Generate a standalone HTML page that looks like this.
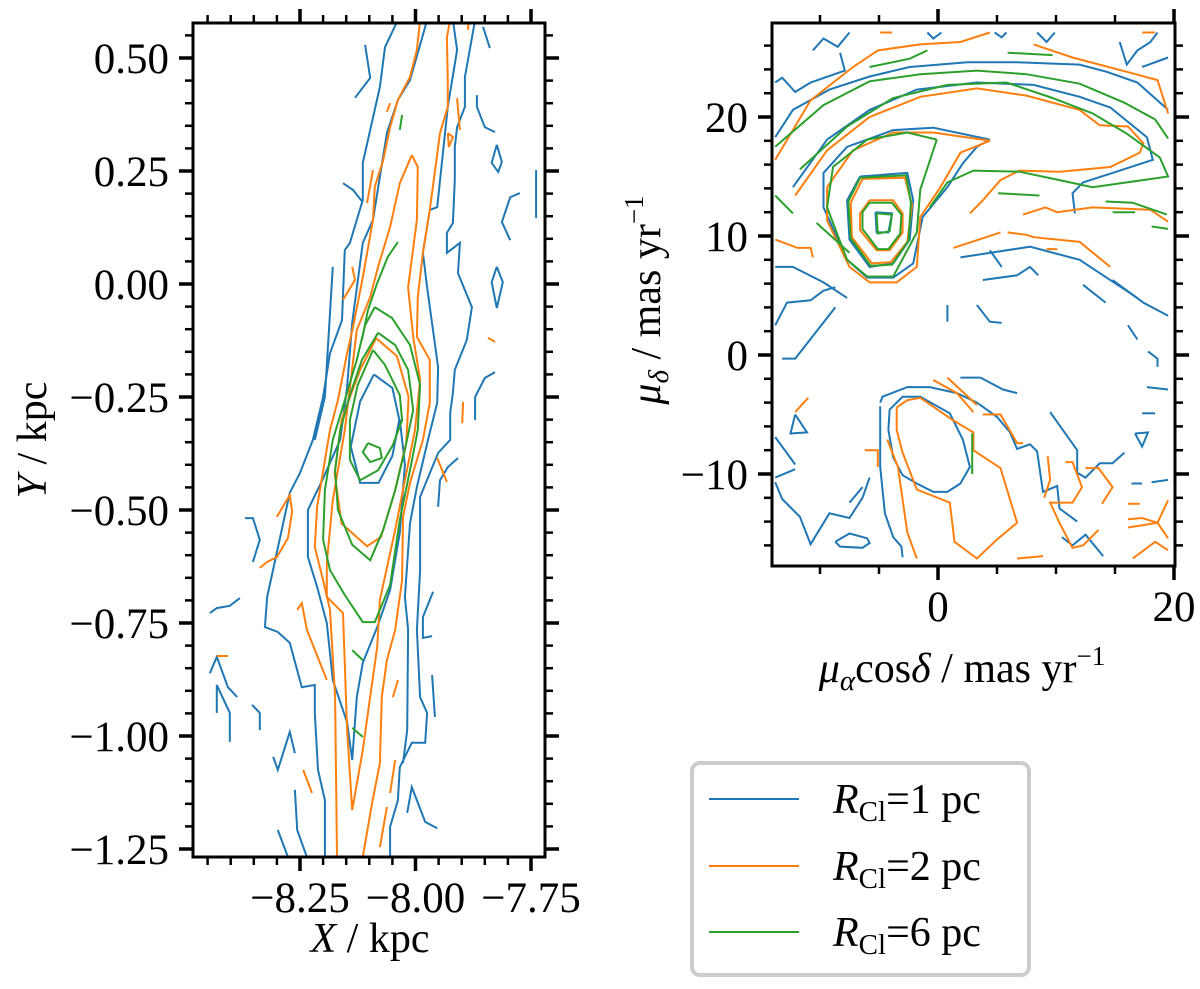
<!DOCTYPE html>
<html><head><meta charset="utf-8">
<style>
html,body{margin:0;padding:0;background:#fff;font-family:"Liberation Serif",serif;}
svg{display:block;font-family:"Liberation Serif",serif;}
svg text{font-family:"Liberation Serif",serif;}
</style></head>
<body>
<svg id="fig" width="1200" height="989" viewBox="0 0 1200 989" xmlns="http://www.w3.org/2000/svg" font-family="Liberation Serif, serif">
<g id="left-panel"></g>
<g id="right-panel"></g>
<g id="legend">
  <rect x="692" y="763" width="337" height="212" rx="8" fill="#fff" stroke="#cccccc" stroke-width="4"/>
  <g>
    <line x1="709" y1="799" x2="799" y2="799" stroke="#1f77b4" stroke-width="2"/>
    <text x="833" y="813" font-size="42" font-family="Liberation Serif, serif"><tspan font-style="italic">R</tspan><tspan font-size="29" dy="8">Cl</tspan><tspan dy="-8">=1 pc</tspan></text>
  </g>
  <g>
    <line x1="709" y1="866" x2="799" y2="866" stroke="#ff7f0e" stroke-width="2"/>
    <text x="833" y="880" font-size="42" font-family="Liberation Serif, serif"><tspan font-style="italic">R</tspan><tspan font-size="29" dy="8">Cl</tspan><tspan dy="-8">=2 pc</tspan></text>
  </g>
  <g>
    <line x1="709" y1="932" x2="799" y2="932" stroke="#2ca02c" stroke-width="2"/>
    <text x="833" y="946" font-size="42" font-family="Liberation Serif, serif"><tspan font-style="italic">R</tspan><tspan font-size="29" dy="8">Cl</tspan><tspan dy="-8">=6 pc</tspan></text>
  </g>
</g>
</svg>
<script>
// ---------- data: left panel (X, Y in kpc) ----------
const leftXTicks = [-8.25, -8.00, -7.75];
const leftXTickLabels = ["\u22128.25", "\u22128.00", "\u22127.75"];
const leftYTicks = [0.50, 0.25, 0.00, -0.25, -0.50, -0.75, -1.00, -1.25];
const leftYTickLabels = ["0.50","0.25","0.00","\u22120.25","\u22120.50","\u22120.75","\u22121.00","\u22121.25"];
const leftBlue = [
 [[-8.038,0.584],[-8.066,0.524],[-8.077,0.436],[-8.114,0.268],[-8.114,0.186],[-8.142,0.091],[-8.153,0.075],[-8.159,-0.080],[-8.185,-0.153],[-8.200,-0.250],[-8.222,-0.345],[-8.250,-0.418],[-8.272,-0.462],[-8.321,-0.692],[-8.326,-0.759],[-8.298,-0.770],[-8.272,-0.794],[-8.246,-0.892],[-8.218,-0.887],[-8.218,-0.949],[-8.211,-1.075],[-8.196,-1.142],[-8.196,-1.268]],
 [[-7.871,0.584],[-7.893,0.458],[-7.893,0.392],[-7.910,0.347],[-7.915,0.303],[-7.915,0.230],[-7.919,0.135],[-7.932,0.113],[-7.932,0.069],[-7.904,0.091],[-7.908,0.024],[-7.878,-0.051],[-7.889,-0.124],[-7.915,-0.190],[-7.919,-0.241],[-7.925,-0.285],[-7.925,-0.345],[-7.951,-0.374],[-7.990,-0.471],[-7.990,-0.633],[-7.997,-0.765],[-7.990,-0.914],[-7.975,-0.949],[-7.979,-1.015],[-8.008,-1.015],[-8.034,-1.069],[-8.038,-1.142],[-8.055,-1.201],[-8.055,-1.268]],
 [[-7.919,0.584],[-7.910,0.518],[-7.930,0.392],[-7.953,0.170],[-7.969,0.164],[-7.984,0.069],[-7.975,-0.007],[-7.951,-0.184],[-7.953,-0.263],[-7.973,-0.345],[-7.997,-0.449],[-8.012,-0.529],[-8.023,-0.692],[-8.016,-0.765],[-8.018,-0.987],[-8.027,-1.060]],
 [[-7.975,0.584],[-7.995,0.511],[-8.012,0.451],[-8.038,0.407],[-8.062,0.334],[-8.092,0.142],[-8.114,0.091],[-8.137,-0.086],[-8.148,-0.228],[-8.163,-0.345],[-8.200,-0.430],[-8.233,-0.500],[-8.233,-0.604],[-8.213,-0.670],[-8.192,-0.750],[-8.179,-0.876],[-8.148,-0.970],[-8.137,-1.053],[-8.127,-0.914],[-8.114,-0.838],[-8.083,-0.759],[-8.055,-0.677],[-8.034,-0.550],[-8.023,-0.400],[-8.034,-0.300]],
 [[-8.090,-0.200],[-8.050,-0.230],[-8.035,-0.300],[-8.050,-0.380],[-8.080,-0.440],[-8.120,-0.440],[-8.140,-0.360],[-8.120,-0.260],[-8.090,-0.200]],
 [[-8.109,0.529],[-8.098,0.456],[-8.131,0.412]],
 [[-7.854,0.569],[-7.839,0.522]],
 [[-7.867,0.418],[-7.867,0.392],[-7.850,0.347],[-7.828,0.336]],
 [[-7.824,0.308],[-7.835,0.268],[-7.821,0.248],[-7.813,0.270],[-7.824,0.308]],
 [[-7.739,0.252],[-7.739,0.146]],
 [[-7.774,0.201],[-7.795,0.192],[-7.813,0.137],[-7.795,0.097]],
 [[-7.824,0.038],[-7.835,0.004],[-7.824,-0.053],[-7.811,0.004],[-7.824,0.038]],
 [[-7.828,-0.195],[-7.850,-0.208],[-7.871,-0.250],[-7.871,-0.301]],
 [[-8.157,0.223],[-8.135,0.208],[-8.114,0.181]],
 [[-8.179,0.038],[-8.196,-0.250],[-8.218,-0.345]],
 [[-8.369,-0.518],[-8.352,-0.518],[-8.337,-0.566],[-8.352,-0.615]],
 [[-8.445,-0.728],[-8.430,-0.717],[-8.402,-0.712],[-8.380,-0.695]],
 [[-8.445,-0.861],[-8.430,-0.825],[-8.406,-0.892],[-8.386,-0.914]],
 [[-8.430,-0.949],[-8.430,-0.887],[-8.402,-0.949],[-8.402,-1.013]],
 [[-8.354,-0.931],[-8.337,-0.949],[-8.337,-0.987]],
 [[-8.308,-1.046],[-8.298,-1.075],[-8.272,-0.991],[-8.261,-1.038]],
 [[-8.261,-1.119],[-8.256,-1.208],[-8.235,-1.268]],
 [[-8.298,-1.208],[-8.276,-1.268]],
 [[-7.962,-0.681],[-7.984,-0.737],[-7.984,-0.783],[-7.964,-0.779]],
 [[-7.964,-0.865],[-7.958,-0.958]],
 [[-8.018,-1.170],[-8.008,-1.113],[-7.979,-1.190],[-7.953,-1.204]],
 [[-7.951,-0.493],[-7.947,-0.434],[-7.930,-0.405],[-7.908,-0.385]]
];
const leftOrange = [
 [[-7.990,0.584],[-7.997,0.518],[-8.012,0.458],[-8.038,0.407],[-8.055,0.347],[-8.070,0.274],[-8.088,0.215],[-8.092,0.142],[-8.114,0.015],[-8.135,-0.095],[-8.148,-0.153],[-8.168,-0.257],[-8.185,-0.323],[-8.213,-0.493],[-8.218,-0.582],[-8.200,-0.655],[-8.185,-0.721],[-8.174,-0.914],[-8.170,-1.268]],
 [[-7.925,0.584],[-7.932,0.546],[-7.930,0.445],[-7.930,0.392],[-7.947,0.334],[-7.969,0.164],[-7.984,0.069],[-7.995,-0.029],[-7.997,-0.117],[-7.969,-0.168],[-7.969,-0.263],[-7.984,-0.345],[-8.012,-0.440],[-8.027,-0.515],[-8.029,-0.655],[-8.044,-0.765],[-8.062,-0.832],[-8.073,-0.914],[-8.077,-1.060],[-8.094,-1.148],[-8.114,-1.268]],
 [[-8.008,0.285],[-7.995,0.259],[-7.997,0.142],[-8.016,-0.007],[-8.005,-0.117],[-7.990,-0.212],[-8.001,-0.323],[-8.023,-0.434],[-8.044,-0.544],[-8.077,-0.699],[-8.083,-0.803],[-8.094,-0.883],[-8.114,-1.031],[-8.137,-1.164],[-8.148,-0.987],[-8.157,-0.728],[-8.192,-0.692],[-8.192,-0.617],[-8.179,-0.478],[-8.153,-0.323],[-8.127,-0.102],[-8.098,-0.029],[-8.081,0.038],[-8.055,0.126],[-8.034,0.223],[-8.008,0.285]],
 [[-8.085,-0.120],[-8.040,-0.160],[-8.015,-0.250],[-8.020,-0.350],[-8.045,-0.460],[-8.075,-0.560],[-8.105,-0.580],[-8.160,-0.530],[-8.175,-0.420],[-8.160,-0.300],[-8.120,-0.190],[-8.085,-0.120]],
 [[-8.300,-0.515],[-8.272,-0.467],[-8.267,-0.504],[-8.276,-0.562],[-8.300,-0.604],[-8.321,-0.615],[-8.337,-0.628]],
 [[-8.256,-0.721],[-8.246,-0.706],[-8.235,-0.765],[-8.192,-0.876]],
 [[-8.430,-0.823],[-8.406,-0.823]],
 [[-8.243,-1.075],[-8.224,-1.126]],
 [[-7.953,-0.385],[-7.932,-0.438]],
 [[-8.044,-1.053],[-8.055,-1.126]],
 [[-8.062,-1.157],[-8.077,-1.246]],
 [[-8.038,-0.876],[-8.049,-0.914]],
 [[-8.055,0.400],[-8.062,0.381]],
 [[-8.092,0.252],[-8.105,0.179]],
 [[-8.137,0.038],[-8.131,0.009],[-8.157,-0.035]],
 [[-7.886,0.577],[-7.886,0.562]],
 [[-7.930,0.334],[-7.919,0.325],[-7.928,0.303],[-7.930,0.334]],
 [[-7.910,0.411],[-7.904,0.341]],
 [[-7.843,-0.119],[-7.828,-0.128]],
 [[-7.897,-0.261],[-7.899,-0.308]]
];
const leftGreen = [
 [[-8.088,-0.051],[-8.051,-0.075],[-8.012,-0.135],[-7.990,-0.223],[-7.995,-0.323],[-8.012,-0.412],[-8.034,-0.522],[-8.055,-0.666],[-8.088,-0.748],[-8.114,-0.748],[-8.153,-0.688],[-8.185,-0.633],[-8.200,-0.566],[-8.196,-0.456],[-8.179,-0.345],[-8.153,-0.257],[-8.127,-0.168],[-8.109,-0.091],[-8.088,-0.051]],
 [[-8.081,-0.108],[-8.044,-0.135],[-8.016,-0.190],[-8.005,-0.279],[-8.023,-0.367],[-8.044,-0.456],[-8.070,-0.544],[-8.098,-0.611],[-8.137,-0.577],[-8.168,-0.500],[-8.174,-0.412],[-8.163,-0.323],[-8.142,-0.246],[-8.116,-0.168],[-8.081,-0.108]],
 [[-8.092,-0.146],[-8.066,-0.179],[-8.034,-0.246],[-8.029,-0.301],[-8.049,-0.356],[-8.081,-0.412],[-8.120,-0.434],[-8.142,-0.389],[-8.142,-0.301],[-8.125,-0.223],[-8.092,-0.146]],
 [[-8.103,-0.352],[-8.077,-0.363],[-8.073,-0.385],[-8.098,-0.394],[-8.114,-0.372],[-8.103,-0.352]],
 [[-8.038,0.093],[-8.060,0.060],[-8.083,0.002],[-8.103,-0.058],[-8.116,-0.124]],
 [[-8.029,0.374],[-8.034,0.341]],
 [[-8.137,-0.810],[-8.114,-0.832]],
 [[-8.137,-0.982],[-8.114,-1.002]]
];

// ---------- data: right panel (mu_alpha cos delta, mu_delta in mas/yr) ----------
const rightXTicks = [0, 20];
const rightXTickLabels = ["0", "20"];
const rightYTicks = [20, 10, 0, -10];
const rightYTickLabels = ["20", "10", "0", "\u221210"];
const rightBlue = [
 [[-13.8,18.3],[-12.3,20.6],[-9.2,22.3],[-5.8,23.4],[-2.4,24.2],[2.5,24.6],[6.7,24.6],[12.0,24.4],[14.3,23.8],[16.9,22.9],[19.5,20.6]],
 [[-12.3,14.1],[-9.4,18.1],[-5.8,20.6],[-1.8,22.3],[3.3,22.9],[8.1,22.7],[12.0,21.7],[14.6,20.8],[17.7,18.3],[18.2,16.4],[14.8,15.3],[12.3,14.5],[11.4,13.6],[11.6,11.9]],
 [[4.4,18.1],[-0.4,19.1],[-3.8,18.9],[-7.7,17.5],[-9.7,15.3],[-9.7,12.4],[-7.7,8.0],[-6.0,6.5],[-3.8,6.5],[-2.1,7.7],[-1.3,11.6],[0.8,14.1],[2.1,16.1],[3.3,17.5],[4.4,18.1]],
 [[-6.6,15.0],[-2.6,15.3],[-2.1,13.0],[-2.4,9.7],[-3.8,7.7],[-5.8,7.4],[-7.5,9.7],[-7.7,13.0],[-6.6,15.0]],
 [[-5.3,12.0],[-3.9,11.9],[-4.2,10.3],[-5.2,10.3],[-5.3,12.0]],
 [[-13.8,2.5],[-12.8,4.4],[-10.8,4.6],[-9.7,5.4],[-8.7,5.7]],
 [[-13.2,-0.3],[-12.1,-0.3],[-8.7,4.0]],
 [[-4.9,-4.0],[-4.7,-3.5],[-2.6,-2.7],[-0.7,-2.7],[1.6,-3.2],[3.3,-4.0],[5.0,-5.2],[6.1,-6.5],[6.7,-7.9],[7.8,-7.5],[8.4,-8.1],[8.9,-11.5],[10.1,-11.0],[10.3,-12.9],[11.8,-14.0]],
 [[-4.9,-4.3],[-4.9,-9.4],[-4.5,-13.3],[-3.8,-15.3],[-3.1,-16.1],[-3.0,-17.0]],
 [[-4.1,-4.6],[-3.0,-3.5],[-1.5,-3.5],[1.0,-4.9],[2.1,-7.1],[2.7,-9.4],[1.9,-10.8],[0.8,-11.5],[-0.4,-11.5],[-1.8,-10.8],[-3.0,-10.1],[-3.8,-8.6],[-4.2,-6.3],[-4.1,-4.6]],
 [[1.9,-1.9],[3.6,-1.9]],
 [[3.6,-1.9],[5.5,-2.9],[6.7,-3.2]],
 [[9.5,-4.8],[11.8,-8.0],[11.8,-9.9],[12.5,-10.3],[13.7,-9.1],[14.8,-9.1],[15.8,-8.2]],
 [[12.3,5.9],[14.2,4.4]],
 [[14.8,6.3],[17.4,4.4],[19.5,3.3]],
 [[16.1,2.5],[16.9,1.3]],
 [[17.8,0.3],[18.6,-0.3],[18.6,-1.0]],
 [[17.7,-2.7],[19.5,-2.9]],
 [[17.3,-4.9],[18.4,-4.9]],
 [[16.7,-6.6],[17.3,-7.7],[17.8,-6.5],[16.7,-6.6]],
 [[-13.8,-10.7],[-13.2,-12.1],[-11.7,-13.6],[-10.8,-15.9],[-9.2,-13.3],[-7.5,-13.7],[-6.4,-12.0],[-5.8,-10.3]],
 [[-8.7,-15.7],[-7.5,-15.0],[-6.0,-15.4],[-5.8,-15.8],[-6.4,-16.2],[-8.3,-16.1],[-8.7,-15.7]],
 [[-13.8,-6.9],[-13.2,-7.7],[-12.1,-9.2]],
 [[-12.1,-5.0],[-12.5,-6.6],[-11.1,-6.5],[-12.1,-5.0]],
 [[-13.8,-10.3],[-12.1,-9.6]],
 [[-7.5,-12.4],[-6.4,-11.1]],
 [[16.4,-10.8],[17.3,-10.8]],
 [[18.1,-10.7],[19.5,-10.5]],
 [[10.5,-15.3],[11.4,-16.0],[12.5,-15.1],[14.0,-16.9]],
 [[-10.6,25.6],[-9.7,26.6],[-8.5,25.9],[-7.5,27.1]],
 [[-8.3,25.4],[-7.9,23.9],[-10.8,22.9],[-12.1,22.1],[-13.2,23.3],[-13.8,22.9]],
 [[-0.9,27.1],[-0.4,26.6],[0.3,27.1]],
 [[4.8,27.1],[5.4,26.7],[5.8,27.1]],
 [[8.4,27.1],[9.2,26.3],[9.9,27.1]],
 [[15.4,26.3],[16.0,24.4],[16.9,25.6],[18.0,26.3],[18.6,27.1]],
 [[17.3,24.2],[19.5,25.0]],
 [[4.4,8.8],[5.4,7.4]],
 [[1.9,8.2],[7.8,9.1],[12.0,8.0],[16.9,4.8]],
 [[3.8,6.3],[6.7,6.7],[7.8,7.4],[8.5,6.7]],
 [[-13.8,7.4],[-12.3,7.4],[-9.7,6.1],[-7.7,4.8]],
 [[0.8,4.2],[0.8,2.8]],
 [[3.3,4.2],[4.4,2.8],[5.4,2.7]]
];
const rightOrange = [
 [[-13.8,16.4],[-10.8,21.4],[-7.2,24.2],[-5.1,25.6],[-1.5,26.1],[1.9,26.3],[4.4,27.1]],
 [[8.1,26.1],[11.4,25.0],[16.0,23.8],[18.6,23.1],[19.5,20.3]],
 [[-12.1,13.4],[-9.4,17.2],[-5.8,20.0],[-1.5,21.7],[3.3,22.4],[7.5,21.8],[12.0,20.6],[13.7,19.3],[16.1,19.2],[17.4,17.8],[17.1,17.0],[14.6,15.8],[10.3,15.4],[6.9,15.5],[5.3,14.7],[3.8,13.0],[2.7,11.9]],
 [[4.4,18.0],[-0.4,18.7],[-3.8,18.7],[-7.2,17.2],[-9.4,14.1],[-9.4,11.3],[-7.5,7.4],[-5.8,6.1],[-3.5,6.1],[-1.8,7.4],[-1.5,11.6],[0.2,14.1],[1.9,17.0],[4.4,18.0]],
 [[-6.4,14.8],[-2.8,14.9],[-2.2,12.6],[-2.6,9.5],[-4.0,7.8],[-5.6,7.7],[-7.3,9.9],[-7.4,12.8],[-6.4,14.8]],
 [[-5.8,13.0],[-3.8,13.0],[-3.0,11.9],[-3.0,10.3],[-4.1,8.8],[-5.2,8.8],[-6.6,10.5],[-6.6,11.9],[-5.8,13.0]],
 [[-3.5,-4.4],[-2.6,-3.8],[-1.5,-3.6],[1.3,-5.5],[3.0,-6.5],[3.0,-8.0],[5.3,-9.5],[6.7,-14.1],[5.0,-15.5],[3.3,-17.1],[1.4,-15.7],[1.0,-12.4],[-1.8,-11.3],[-3.0,-8.2],[-3.5,-6.3],[-3.5,-4.4]],
 [[-4.3,-7.1],[-3.4,-9.4],[-2.6,-14.9],[-1.8,-17.1]],
 [[-0.4,-2.1],[1.6,-3.2],[3.0,-4.8]],
 [[0.8,-1.9],[3.3,-4.2]],
 [[3.8,-5.0],[5.3,-5.0],[6.7,-7.4],[7.2,-7.4]],
 [[9.3,-8.5],[9.5,-10.5],[9.0,-12.0]],
 [[10.8,-9.0],[11.4,-9.0],[12.2,-11.1],[11.4,-12.4],[9.5,-12.4],[10.3,-14.1],[11.4,-16.2],[12.3,-16.0],[13.6,-14.7]],
 [[12.5,-9.5],[13.6,-9.5],[14.8,-11.1],[13.9,-12.5]],
 [[6.7,-17.1],[8.9,-16.9]],
 [[16.1,-13.8],[17.3,-13.7],[18.6,-14.1],[19.5,-12.2]],
 [[16.1,-14.5],[18.6,-14.1],[19.5,-15.4]],
 [[16.5,-17.1],[18.4,-15.7],[19.5,-16.4]],
 [[16.1,-12.5],[17.1,-12.5]],
 [[-12.1,-4.8],[-11.0,-3.6]],
 [[-6.2,-8.0],[-5.1,-8.0],[-5.1,-9.4]],
 [[-4.9,27.1],[-3.9,27.1]],
 [[17.3,27.1],[18.4,27.1]],
 [[1.3,9.0],[5.3,10.3]],
 [[5.9,10.3],[7.5,10.1],[8.1,9.9],[12.0,9.5],[14.6,7.4]],
 [[9.2,8.9],[10.1,8.9]],
 [[-13.8,9.7],[-11.9,9.0],[-10.8,9.0],[-10.6,8.2]],
 [[7.2,11.8],[9.1,12.4],[10.1,12.0],[13.1,12.4],[18.0,12.2],[19.5,11.2]]
];
const rightGreen = [
 [[-13.8,17.5],[-9.7,21.0],[-5.8,23.0],[-1.5,23.6],[3.3,23.9],[7.5,23.6],[12.0,22.8],[15.8,21.2],[18.4,19.8],[19.5,18.2]],
 [[-0.9,25.6],[-2.4,24.9],[-5.8,24.2]],
 [[5.9,25.4],[9.7,25.2]],
 [[-11.7,15.6],[-7.7,19.2],[-3.8,21.6],[0.8,22.7],[5.8,22.9],[9.7,21.6],[13.1,20.3],[16.0,18.6],[18.8,16.6],[19.5,15.0],[16.0,14.5],[13.1,14.1],[10.3,14.7],[6.9,15.4],[3.0,15.5],[0.8,14.5],[-0.7,12.4]],
 [[-0.1,18.1],[-2.6,18.7],[-6.0,18.1],[-8.9,15.8],[-9.4,12.4],[-7.7,8.0],[-6.0,6.6],[-3.8,6.6],[-1.8,10.3],[-1.5,13.9],[-0.1,18.1]],
 [[-6.6,14.9],[-2.7,15.1],[-2.3,12.8],[-2.5,9.6],[-3.9,7.6],[-5.7,7.5],[-7.4,9.8],[-7.6,12.9],[-6.6,14.9]],
 [[-5.8,12.8],[-3.9,12.8],[-3.1,11.8],[-3.2,10.2],[-4.2,8.9],[-5.1,8.9],[-6.4,10.6],[-6.4,12.0],[-5.8,12.8]],
 [[-5.2,11.9],[-3.9,11.8],[-4.1,10.4],[-5.1,10.2],[-5.2,11.9]],
 [[5.1,13.6],[8.6,13.4]],
 [[14.2,12.9],[16.5,12.8],[19.4,11.8]],
 [[14.8,12.0],[16.7,12.0]],
 [[18.1,10.8],[19.5,10.6]],
 [[-13.8,13.4],[-12.3,11.9]],
 [[-10.3,11.1],[-7.5,8.6]],
 [[2.9,-6.6],[2.9,-10.0]]
];

// ---------- rendering ----------
const NS = "http://www.w3.org/2000/svg";
const colors = {blue:"#1f77b4", orange:"#ff7f0e", green:"#2ca02c"};
const FONT = "Liberation Serif, serif";

function mk(tag, attrs, parent){
  const e = document.createElementNS(NS, tag);
  for (const k in attrs) e.setAttribute(k, attrs[k]);
  parent.appendChild(e);
  return e;
}

function drawPanel(g, cfg){
  const {x0,x1,y0,y1,sx,sy,xMin,xMax,yMin,yMax,xMinor,yMinor} = cfg;
  const defs = mk("defs", {}, g);
  const cp = mk("clipPath", {id: cfg.clipId}, defs);
  mk("rect", {x:x0, y:y0, width:x1-x0, height:y1-y0}, cp);
  const plot = mk("g", {"clip-path":"url(#"+cfg.clipId+")"}, g);
  
  
  const series = [["blue",cfg.blue,"1pc"],["orange",cfg.orange,"2pc"],["green",cfg.green,"6pc"]];
  for (const [col, arr, lab] of series){
    const sg = mk("g", {}, plot);
    
    
    for (const line of arr){
      const pts = line.map(p => sx(p[0]).toFixed(1) + "," + sy(p[1]).toFixed(1)).join(" ");
      const pl = mk("polyline", {points: pts, fill:"none", stroke: colors[col], "stroke-width": 2}, sg);
      
      
    }
  }
  const fr = mk("rect", {x:x0, y:y0, width:x1-x0, height:y1-y0, fill:"none", stroke:"#000", "stroke-width":3}, g);
  
  
  const tg = mk("g", {stroke:"#000"}, g);
  
  
  const eps = 1e-6;
  for (let v = Math.ceil(xMin/xMinor - eps)*xMinor; v <= xMax + eps; v += xMinor){
    const px = sx(v);
    if (px < x0 - 1 || px > x1 + 1) continue;
    const major = cfg.xTicks.some(t => Math.abs(t - v) < xMinor/10);
    const L = major ? 14 : 8, w = major ? 3.5 : 2.5;
    mk("line", {x1:px, y1:y1, x2:px, y2:y1+L, "stroke-width":w}, tg);
    mk("line", {x1:px, y1:y0, x2:px, y2:y0-L, "stroke-width":w}, tg);
  }
  for (let v = Math.ceil(yMin/yMinor - eps)*yMinor; v <= yMax + eps; v += yMinor){
    const py = sy(v);
    if (py < y0 - 1 || py > y1 + 1) continue;
    const major = cfg.yTicks.some(t => Math.abs(t - v) < yMinor/10);
    const L = major ? 14 : 8, w = major ? 3.5 : 2.5;
    mk("line", {x1:x0, y1:py, x2:x0-L, y2:py, "stroke-width":w}, tg);
    mk("line", {x1:x1, y1:py, x2:x1+L, y2:py, "stroke-width":w}, tg);
  }
  cfg.xTicks.forEach((t,i) => {
    const tx = mk("text", {x:sx(t), y:y1+55, "font-size":43, "font-family":FONT, "text-anchor":"middle"}, g);
    tx.textContent = cfg.xLabels[i];
    
    
  });
  cfg.yTicks.forEach((t,i) => {
    const tx = mk("text", {x:x0-24, y:sy(t)+15, "font-size":43, "font-family":FONT, "text-anchor":"end"}, g);
    tx.textContent = cfg.yLabels[i];
    
    
  });
}

const lsx = v => 300 + (v + 8.25) * 462;
const lsy = v => 284 - v * 452;
drawPanel(document.getElementById("left-panel"), {
  name:"left", clipId:"clipL", x0:193, x1:545, y0:23, y1:857, sx:lsx, sy:lsy,
  xMin:-8.50, xMax:-7.70, yMin:-1.30, yMax:0.60, xMinor:0.05, yMinor:0.05,
  xTicks:leftXTicks, xLabels:leftXTickLabels, yTicks:leftYTicks, yLabels:leftYTickLabels,
  blue:leftBlue, orange:leftOrange, green:leftGreen
});

const rsx = v => 938 + v * 11.8;
const rsy = v => 117 + (20 - v) * 11.9;
drawPanel(document.getElementById("right-panel"), {
  name:"right", clipId:"clipR", x0:772, x1:1175, y0:23, y1:566, sx:rsx, sy:rsy,
  xMin:-15, xMax:20, yMin:-20, yMax:28, xMinor:5, yMinor:2,
  xTicks:rightXTicks, xLabels:rightXTickLabels, yTicks:rightYTicks, yLabels:rightYTickLabels,
  blue:rightBlue, orange:rightOrange, green:rightGreen
});

const svg = document.getElementById("fig");
function title(html, attrs, name){
  attrs["font-family"] = FONT;
  const t = mk("text", attrs, svg);
  t.innerHTML = html;
  
  
}
title('<tspan font-style="italic">X</tspan> / kpc', {x:370, y:952, "font-size":42, "text-anchor":"middle"}, 'left-x-axis-title');
title('<tspan font-style="italic">Y</tspan> / kpc', {x:0, y:0, "font-size":42, "text-anchor":"middle", transform:"translate(46,440) rotate(-90)"}, 'left-y-axis-title');
title('<tspan font-style="italic">μ</tspan><tspan font-style="italic" font-size="29" dy="8">α</tspan><tspan dy="-8">cos</tspan><tspan font-style="italic">δ</tspan> / mas yr<tspan font-size="27" dy="-17">−1</tspan>', {x:962, y:682, "font-size":42, "text-anchor":"middle"}, 'right-x-axis-title');
title('<tspan font-style="italic">μ</tspan><tspan font-style="italic" font-size="29" dy="8">δ</tspan><tspan dy="-8"> / mas yr</tspan><tspan font-size="27" dy="-17">−1</tspan>', {x:0, y:0, "font-size":42, "text-anchor":"middle", transform:"translate(660,300) rotate(-90)"}, 'right-y-axis-title');
</script>
</body></html>
